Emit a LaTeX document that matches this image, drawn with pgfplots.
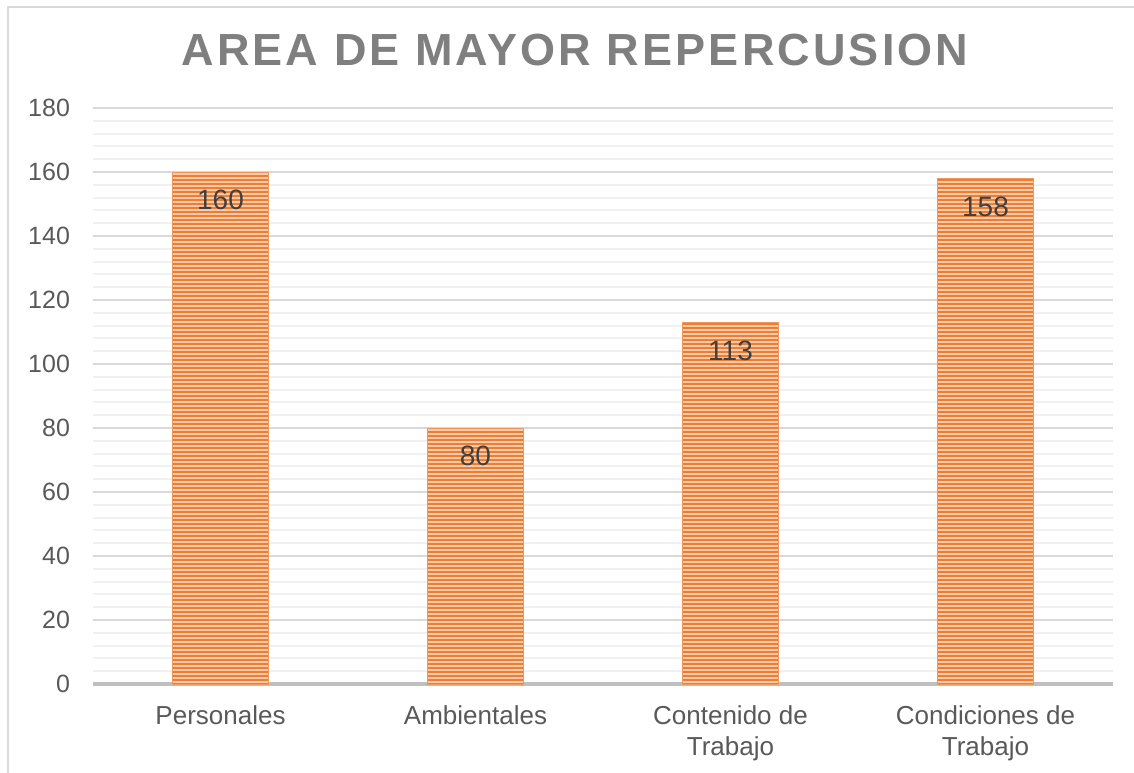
\documentclass[border=0pt]{standalone}
\usepackage{pgfplots}
\pgfplotsset{compat=1.18}
\usetikzlibrary{patterns.meta}
\usepackage{fontspec}
\setmainfont{Liberation Sans}
\definecolor{barorange}{HTML}{ED7D31}
\definecolor{barlight}{HTML}{F8CBAD}
\definecolor{majgrid}{HTML}{D9D9D9}
\definecolor{mingrid}{HTML}{F0F0F0}
\definecolor{ticktext}{HTML}{595959}
\definecolor{titletext}{HTML}{7F7F7F}
\definecolor{labeltext}{HTML}{404040}
\definecolor{axisline}{HTML}{BFBFBF}
\begin{document}
\begin{tikzpicture}
\useasboundingbox (0,0) rectangle (567pt,386pt);
\fill[white] (0,0) rectangle (567pt,386pt);
\draw[majgrid, line width=1pt] (4pt,-2pt) -- (4pt,382.5pt) -- (570pt,382.5pt);
\node[titletext, font={\fontsize{22.5}{27}\selectfont\bfseries\addfontfeatures{LetterSpace=7}}] at (287.5pt,361pt) {AREA DE MAYOR REPERCUSION};
\begin{axis}[
  at={(46.5pt,44pt)}, anchor=south west,
  scale only axis, width=510pt, height=288pt,
  xmin=-0.5, xmax=3.5, ymin=0, ymax=180,
  ytick={0,20,...,180}, minor y tick num=4,
  xtick={0,1,2,3},
  xticklabels={Personales, Ambientales, {Contenido de\\Trabajo}, {Condiciones de\\Trabajo}},
  xticklabel style={align=center, font={\fontsize{13}{15.5}\selectfont}, text=ticktext, yshift=-7.5pt},
  yticklabel style={font={\fontsize{12.5}{15}\selectfont}, text=ticktext, xshift=-8pt},
  /pgf/number format/assume math mode=true,
  ymajorgrids, yminorgrids,
  major grid style={majgrid, line width=1pt},
  minor grid style={mingrid, line width=1pt},
  axis x line*=bottom, axis y line*=left,
  x axis line style={axisline, line width=1.6pt},
  y axis line style={draw=none},
  major tick length=0pt, minor tick length=0pt,
  ybar, bar width=48pt,
  nodes near coords,
  nodes near coords style={anchor=north, yshift=-5.5pt, text=labeltext, font={\fontsize{14}{16}\selectfont}},
]
\addplot[draw=barorange!80, line width=0.4pt, fill=barlight,
  postaction={pattern={Lines[angle=0,distance=2pt,line width=1pt]}, pattern color=barorange}]
  coordinates {(0,160) (1,80) (2,113) (3,158)};
\end{axis}
\end{tikzpicture}
\end{document}
